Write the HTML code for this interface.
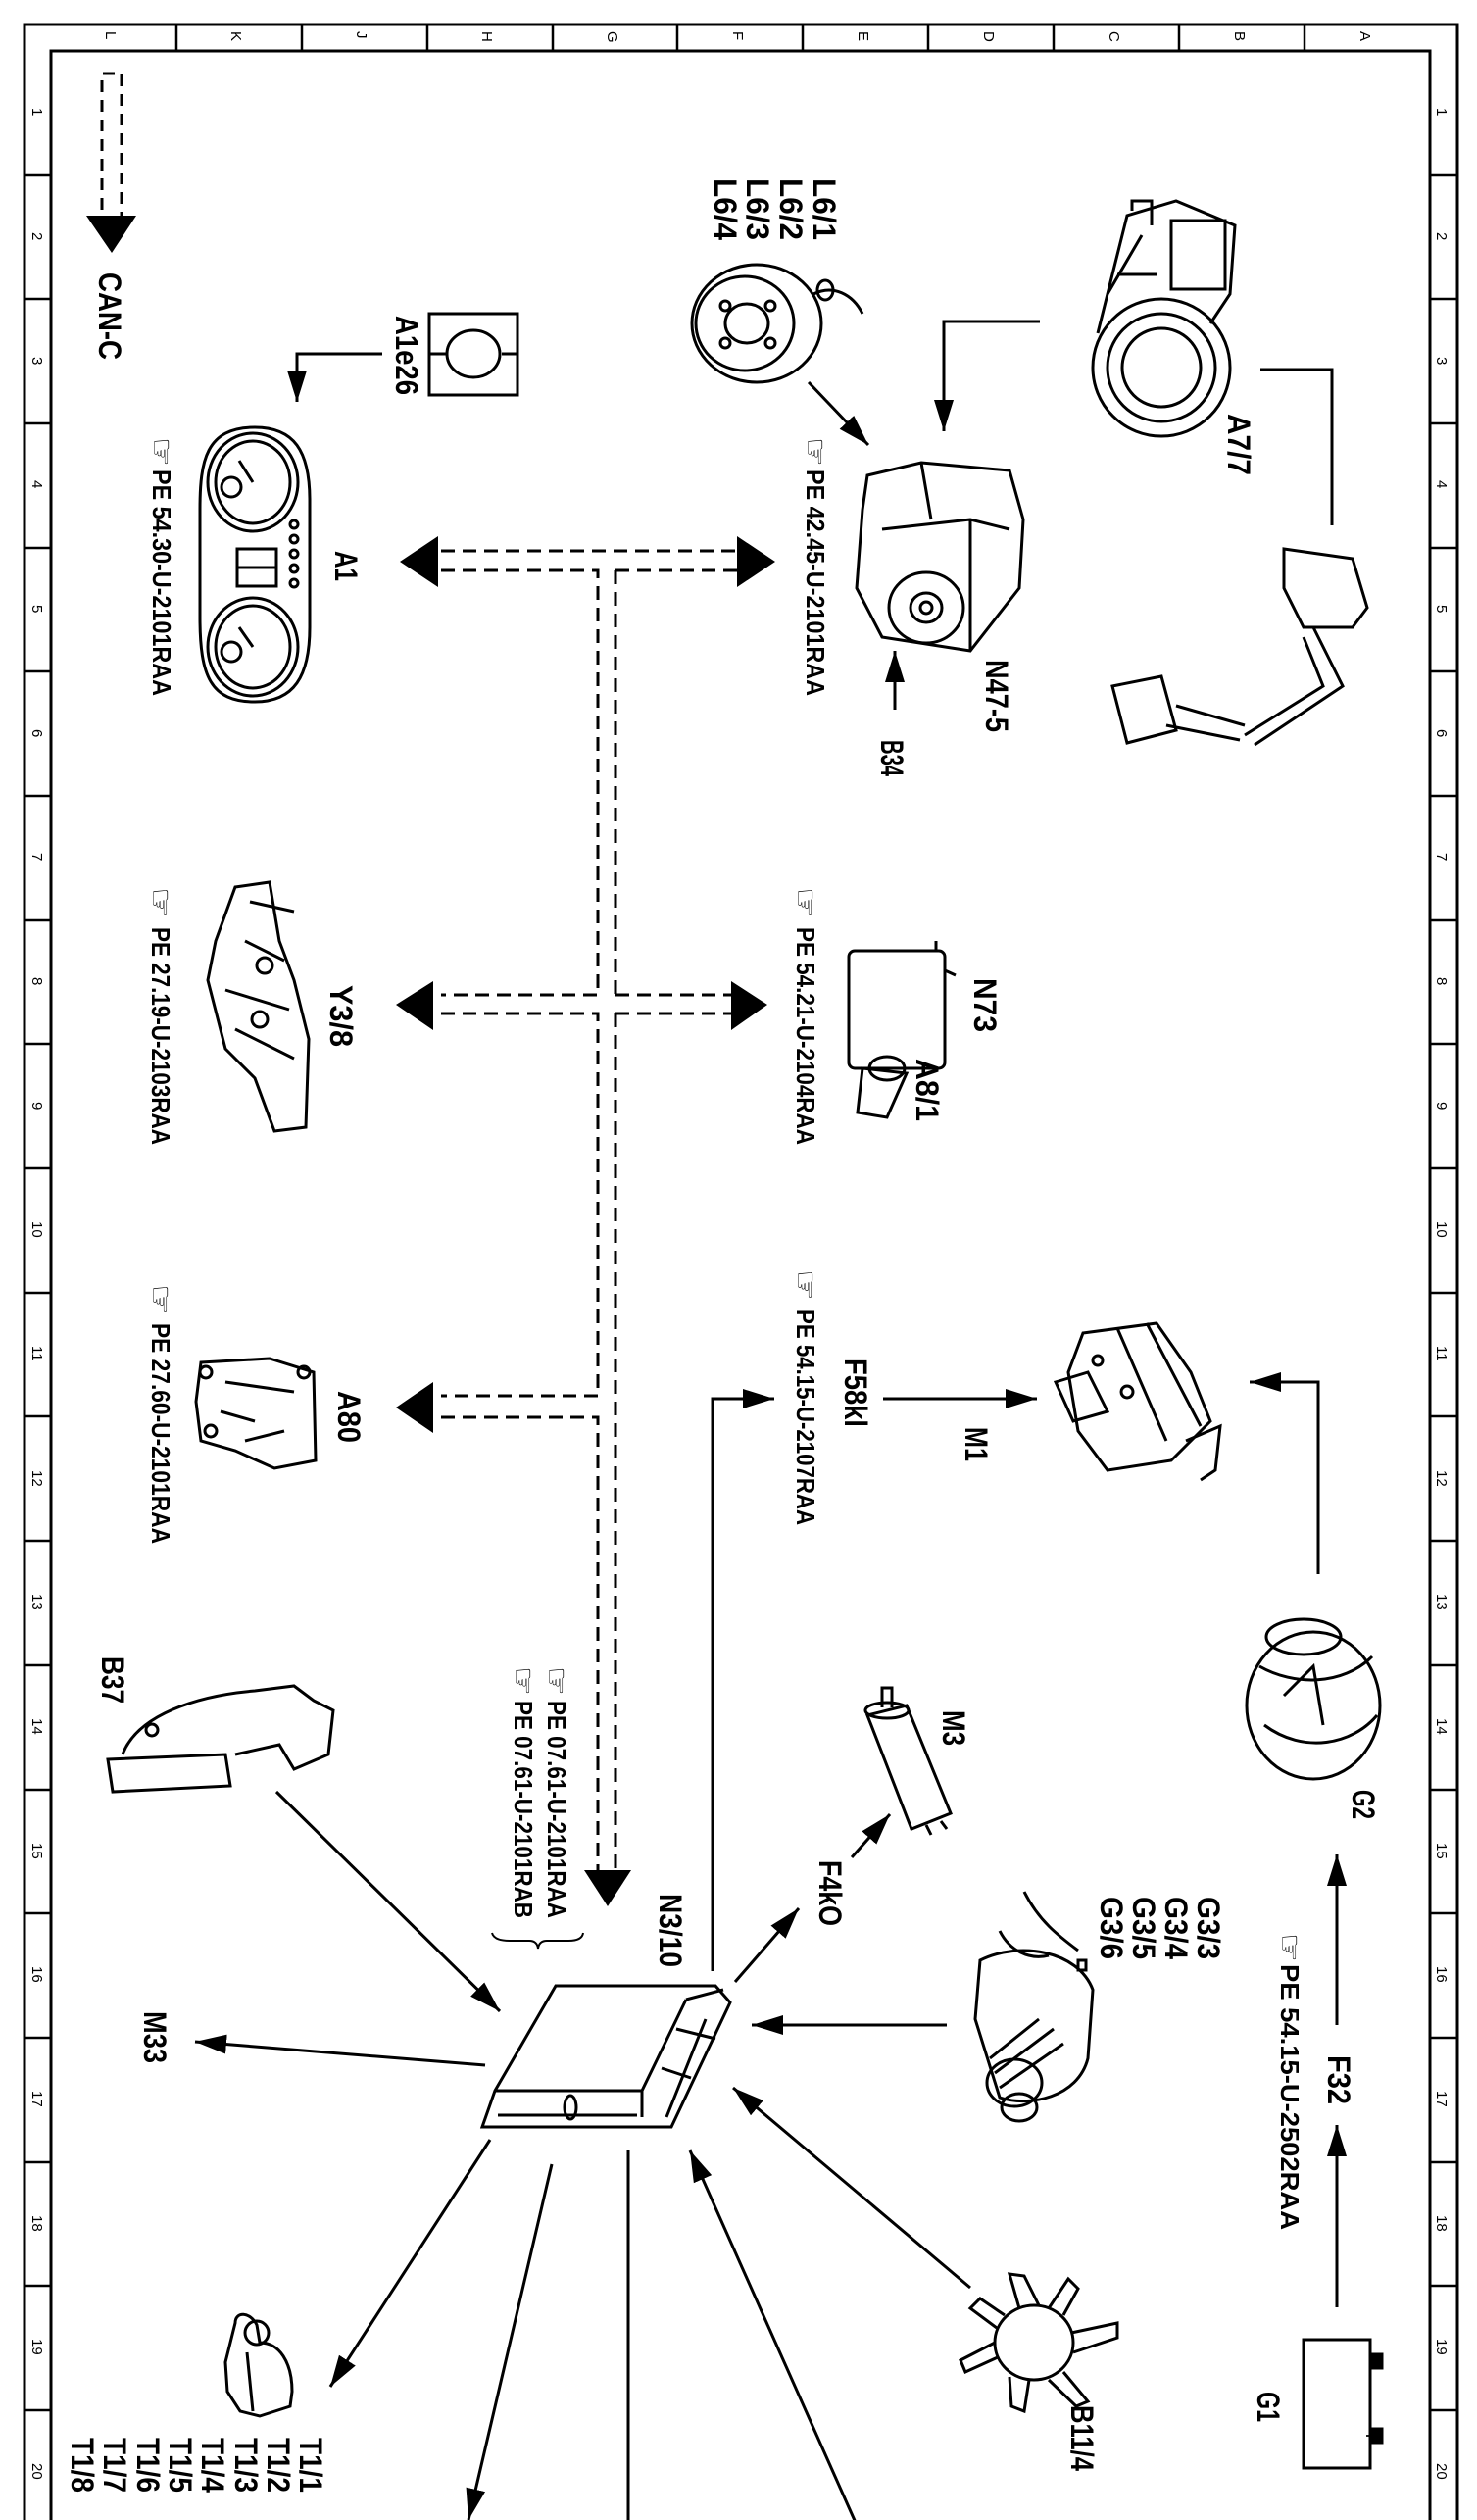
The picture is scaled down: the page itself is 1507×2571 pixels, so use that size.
<!DOCTYPE html>
<html><head><meta charset="utf-8"><style>
html,body{margin:0;padding:0;background:#fff}
svg{display:block}
text{font-family:"Liberation Sans","DejaVu Sans",sans-serif;fill:#000}
.b{font-weight:bold}
.g{font-size:15px;font-weight:normal}
</style></head><body>
<svg width="1507" height="2571" viewBox="0 0 1507 2571" xmlns="http://www.w3.org/2000/svg">
<defs>
<marker id="a" markerUnits="userSpaceOnUse" markerWidth="34" markerHeight="24" refX="32" refY="12" orient="auto"><path d="M0,2 L32,12 L0,22 Z" fill="#000"/></marker>
</defs>
<g fill="none" stroke="#000">
<path d="M25,2571 V25 H1487 V2571" stroke-width="3"/>
<path d="M52,2571 V52 H1459 V2571" stroke-width="3"/>
<g stroke-width="2.5">
<path d="M180,25V52M308,25V52M436,25V52M564,25V52M691,25V52M819,25V52M947,25V52M1075,25V52M1203,25V52M1331,25V52"/>
<path d="M25,179H52M25,305H52M25,432H52M25,559H52M25,685H52M25,812H52M25,939H52M25,1065H52M25,1192H52M25,1319H52M25,1445H52M25,1572H52M25,1699H52M25,1826H52M25,1952H52M25,2079H52M25,2206H52M25,2332H52M25,2459H52"/>
<path d="M1459,179H1487M1459,305H1487M1459,432H1487M1459,559H1487M1459,685H1487M1459,812H1487M1459,939H1487M1459,1065H1487M1459,1192H1487M1459,1319H1487M1459,1445H1487M1459,1572H1487M1459,1699H1487M1459,1826H1487M1459,1952H1487M1459,2079H1487M1459,2206H1487M1459,2332H1487M1459,2459H1487"/>
</g>

<path d="M124,228 V75 H104 V228" stroke-width="3" stroke-dasharray="12,8"/>
<g stroke-width="3" stroke-dasharray="14,8">
<path d="M450,562 H752 M450,582 H610 V1015 H450 M628,582 H752 M628,1015 H750 M450,1034 H610 V1424 H450 M628,1034 H750 M450,1446 H610 V1925"/>
<path d="M628,582 V1015 M628,1034 V1925"/>
</g>

<g stroke-width="3">
<path d="M390,361 H303 V410" marker-end="url(#a)"/>
<path d="M825,390 L886,454" marker-end="url(#a)"/>
<path d="M1061,328 H963 V440" marker-end="url(#a)"/>
<path d="M1286,377 H1359 V536"/>
<path d="M913,724 V664" marker-end="url(#a)"/>
<path d="M901,1427 H1058" marker-end="url(#a)"/>
<path d="M727,2011 V1427 H790" marker-end="url(#a)"/>
<path d="M1345,1606 V1410 H1275" marker-end="url(#a)"/>
<path d="M1364,2066 V1892" marker-end="url(#a)"/>
<path d="M1364,2354 V2168" marker-end="url(#a)"/>
<path d="M750,2022 L815,1947" marker-end="url(#a)"/>
<path d="M869,1895 L908,1851" marker-end="url(#a)"/>
<path d="M966,2066 H767" marker-end="url(#a)"/>
<path d="M282,1828 L510,2052" marker-end="url(#a)"/>
<path d="M495,2107 L199,2083" marker-end="url(#a)"/>
<path d="M990,2334 L748,2130" marker-end="url(#a)"/>
<path d="M874,2576 L704,2194" marker-end="url(#a)"/>
<path d="M641,2194 V2571"/>
<path d="M563,2208 L478,2571" marker-end="url(#a)"/>
<path d="M500,2183 L337,2435" marker-end="url(#a)"/>
<path d="M502,1972 Q504,1980 520,1980 H540 Q548,1980 549,1988 Q550,1980 558,1980 H580 Q594,1980 595,1972" stroke-width="2"/>
</g>
</g>
<g fill="#000">
<path d="M88,220 H139 L114,258 Z"/>
<path d="M408,573 L447,547 V599 Z"/>
<path d="M791,573 L752,547 V599 Z"/>
<path d="M404,1025 L442,1001 V1051 Z"/>
<path d="M783,1025 L746,1001 V1051 Z"/>
<path d="M404,1436 L442,1410 V1462 Z"/>
<path d="M596,1908 H644 L620,1945 Z"/>
</g>

<g fill="none" stroke="#000" stroke-width="3">
<rect x="438" y="320" width="90" height="83"/>
<path d="M438,361 H455 M512,361 H528"/>
<ellipse cx="483" cy="361" rx="27" ry="24"/>
<path d="M260,436 C210,436 204,470 204,520 V630 C204,690 215,716 260,716 C300,716 316,690 316,640 V510 C316,460 300,436 260,436 Z"/>
<ellipse cx="258" cy="492" rx="46" ry="50"/><ellipse cx="258" cy="492" rx="38" ry="42"/>
<ellipse cx="258" cy="660" rx="46" ry="50"/><ellipse cx="258" cy="660" rx="38" ry="42"/>
<rect x="242" y="560" width="40" height="38"/><path d="M242,579 H282"/>
<circle cx="236" cy="497" r="10"/><circle cx="236" cy="665" r="10"/>
<path d="M258,492 L244,470 M258,660 L244,640"/>
<circle cx="300" cy="535" r="4"/><circle cx="300" cy="550" r="4"/><circle cx="300" cy="565" r="4"/><circle cx="300" cy="580" r="4"/><circle cx="300" cy="595" r="4"/>
<ellipse cx="772" cy="330" rx="66" ry="60"/>
<ellipse cx="760" cy="330" rx="50" ry="48"/>
<ellipse cx="762" cy="330" rx="22" ry="20"/>
<circle cx="740" cy="312" r="5"/><circle cx="786" cy="312" r="5"/><circle cx="740" cy="350" r="5"/><circle cx="786" cy="350" r="5"/>
<path d="M830,300 C850,290 870,300 880,320"/>
<ellipse cx="842" cy="296" rx="8" ry="10"/>
<ellipse cx="1185" cy="375" rx="70" ry="70"/>
<ellipse cx="1185" cy="375" rx="55" ry="55"/>
<ellipse cx="1185" cy="375" rx="40" ry="40"/>
<path d="M1120,340 L1150,220 L1200,205 L1260,230 L1255,300 L1235,330"/>
<rect x="1195" y="225" width="55" height="70"/>
<path d="M1140,280 H1180 M1130,300 L1165,240 M1155,215 V205 H1175 V230"/>
<path d="M1310,560 L1380,570 L1395,620 L1380,640 L1330,640 L1310,600 Z"/>
<path d="M1340,640 L1370,700 L1280,760 M1330,650 L1350,700 L1270,750"/>
<path d="M1135,700 L1185,690 L1200,745 L1150,758 Z"/>
<path d="M1200,720 L1270,740 M1190,740 L1265,755"/>
<path d="M885,485 L940,472 L1030,480 L1044,530 L1040,600 L990,664 L900,650 L874,600 L880,520 Z"/>
<path d="M900,540 L990,530 L1030,540 M940,472 L950,530 M990,530 L990,664"/>
<ellipse cx="945" cy="620" rx="38" ry="36"/><ellipse cx="945" cy="620" rx="16" ry="15"/><circle cx="945" cy="620" r="6"/>
<path d="M240,905 L275,900 L285,960 L300,1000 L315,1060 L312,1150 L280,1154 L260,1100 L230,1070 L212,1000 L220,960 Z"/>
<path d="M250,960 L290,980 M230,1010 L295,1030 M240,1050 L300,1080 M255,920 L300,930"/>
<circle cx="270" cy="985" r="8"/><circle cx="265" cy="1040" r="8"/>
<rect x="866" y="970" width="98" height="120" rx="6"/>
<path d="M955,970 V960 M964,990 L975,995"/>
<path d="M880,1090 L875,1135 L905,1140 L925,1095 Z"/>
<ellipse cx="905" cy="1090" rx="18" ry="12"/>
<path d="M205,1390 L275,1386 L320,1400 L322,1490 L280,1498 L240,1480 L205,1470 L200,1430 Z"/>
<path d="M230,1410 L300,1420 M225,1440 L260,1450 M250,1470 L290,1460"/>
<circle cx="210" cy="1400" r="6"/><circle cx="310" cy="1400" r="6"/><circle cx="215" cy="1460" r="6"/>
<path d="M1105,1360 L1180,1350 L1215,1400 L1235,1450 L1195,1490 L1130,1500 L1100,1460 L1090,1400 Z"/>
<path d="M1140,1355 L1190,1470 M1170,1350 L1225,1455"/>
<path d="M1077,1410 L1110,1400 L1130,1440 L1095,1450 Z"/>
<path d="M1210,1470 L1245,1455 L1240,1500 L1225,1510"/>
<circle cx="1120" cy="1388" r="5"/><circle cx="1150" cy="1420" r="6"/>
<ellipse cx="1340" cy="1740" rx="68" ry="75"/>
<ellipse cx="1330" cy="1670" rx="38" ry="18"/>
<path d="M1285,1700 C1320,1720 1370,1720 1400,1690 M1290,1760 C1330,1790 1380,1780 1405,1750 M1310,1730 L1340,1700 L1350,1760"/>
<path d="M885,1750 L925,1740 L970,1850 L930,1866 Z"/>
<ellipse cx="905" cy="1745" rx="22" ry="8"/>
<path d="M900,1742 V1722 H910 V1742"/>
<path d="M945,1862 L950,1872 M960,1858 L966,1866"/>
<path d="M1000,2000 C1040,1980 1100,1990 1115,2030 L1110,2100 C1100,2140 1050,2150 1020,2140 L995,2060 Z"/>
<ellipse cx="1035" cy="2125" rx="28" ry="24"/><ellipse cx="1040" cy="2150" rx="18" ry="14"/>
<path d="M1045,1930 C1060,1960 1080,1975 1100,1990 M1020,1970 C1030,1990 1050,2000 1070,1995"/>
<rect x="1100" y="2000" width="8" height="10"/>
<path d="M1010,2100 L1060,2060 M1015,2115 L1075,2070 M1020,2130 L1085,2085"/>
<path d="M567,2026 L730,2026 L745,2043 L685,2170 L492,2170 L505,2133 Z"/>
<path d="M505,2133 H655 L700,2040 M655,2133 V2160 M700,2040 L738,2030 M680,2160 L720,2060 M690,2070 L730,2080 M675,2110 L705,2120"/>
<path d="M508,2158 H650"/><ellipse cx="582" cy="2150" rx="6" ry="12"/>
<path d="M110,1795 L230,1790 L235,1822 L115,1828 Z"/>
<path d="M125,1790 C140,1750 200,1730 260,1725 L300,1720 L320,1735 L340,1745 L335,1790 L300,1805 L285,1780 L240,1790"/>
<circle cx="155" cy="1765" r="6"/>
<rect x="1330" y="2387" width="68" height="131"/>
<rect x="1398" y="2402" width="12" height="14" fill="#000"/>
<rect x="1398" y="2478" width="12" height="14" fill="#000"/>
<path d="M240,2370 C240,2358 255,2358 262,2372 L265,2390 C285,2390 298,2410 298,2440 L296,2455 L265,2465 L245,2460 L232,2440 L230,2410 Z"/>
<circle cx="262" cy="2380" r="12"/>
<path d="M252,2400 L258,2460"/>
<ellipse cx="1055" cy="2390" rx="40" ry="38"/>
<path d="M1040,2355 L1030,2320 L1045,2322 L1060,2352 M1070,2355 L1090,2325 L1100,2335 L1085,2362 M1093,2380 L1140,2370 L1140,2385 L1095,2400 M1085,2420 L1110,2450 L1098,2455 L1070,2428 M1050,2428 L1045,2460 L1032,2455 L1030,2425 M1018,2405 L985,2420 L980,2408 L1015,2390 M1017,2375 L990,2355 L1000,2345 L1025,2362"/>
</g>

<g class="g">
<text transform="translate(108,32) rotate(90)">L</text>
<text transform="translate(236,32) rotate(90)">K</text>
<text transform="translate(364,32) rotate(90)">J</text>
<text transform="translate(492,32) rotate(90)">H</text>
<text transform="translate(620,32) rotate(90)">G</text>
<text transform="translate(748,32) rotate(90)">F</text>
<text transform="translate(876,32) rotate(90)">E</text>
<text transform="translate(1004,32) rotate(90)">D</text>
<text transform="translate(1132,32) rotate(90)">C</text>
<text transform="translate(1260,32) rotate(90)">B</text>
<text transform="translate(1388,32) rotate(90)">A</text>
</g>
<g font-size="15">
<text transform="translate(33,110) rotate(90)">1</text><text transform="translate(1466,110) rotate(90)">1</text>
<text transform="translate(33,237) rotate(90)">2</text><text transform="translate(1466,237) rotate(90)">2</text>
<text transform="translate(33,364) rotate(90)">3</text><text transform="translate(1466,364) rotate(90)">3</text>
<text transform="translate(33,490) rotate(90)">4</text><text transform="translate(1466,490) rotate(90)">4</text>
<text transform="translate(33,617) rotate(90)">5</text><text transform="translate(1466,617) rotate(90)">5</text>
<text transform="translate(33,744) rotate(90)">6</text><text transform="translate(1466,744) rotate(90)">6</text>
<text transform="translate(33,870) rotate(90)">7</text><text transform="translate(1466,870) rotate(90)">7</text>
<text transform="translate(33,997) rotate(90)">8</text><text transform="translate(1466,997) rotate(90)">8</text>
<text transform="translate(33,1124) rotate(90)">9</text><text transform="translate(1466,1124) rotate(90)">9</text>
<text transform="translate(33,1246) rotate(90)">10</text><text transform="translate(1466,1246) rotate(90)">10</text>
<text transform="translate(33,1373) rotate(90)">11</text><text transform="translate(1466,1373) rotate(90)">11</text>
<text transform="translate(33,1500) rotate(90)">12</text><text transform="translate(1466,1500) rotate(90)">12</text>
<text transform="translate(33,1626) rotate(90)">13</text><text transform="translate(1466,1626) rotate(90)">13</text>
<text transform="translate(33,1753) rotate(90)">14</text><text transform="translate(1466,1753) rotate(90)">14</text>
<text transform="translate(33,1880) rotate(90)">15</text><text transform="translate(1466,1880) rotate(90)">15</text>
<text transform="translate(33,2006) rotate(90)">16</text><text transform="translate(1466,2006) rotate(90)">16</text>
<text transform="translate(33,2133) rotate(90)">17</text><text transform="translate(1466,2133) rotate(90)">17</text>
<text transform="translate(33,2260) rotate(90)">18</text><text transform="translate(1466,2260) rotate(90)">18</text>
<text transform="translate(33,2386) rotate(90)">19</text><text transform="translate(1466,2386) rotate(90)">19</text>
<text transform="translate(33,2513) rotate(90)">20</text><text transform="translate(1466,2513) rotate(90)">20</text>
</g>

<g class="b" font-size="32">
<text transform="translate(101,278) rotate(90)" textLength="89" lengthAdjust="spacingAndGlyphs">CAN-C</text>
<text transform="translate(404,322) rotate(90)" textLength="81" lengthAdjust="spacingAndGlyphs">A1e26</text>
<text transform="translate(342,562) rotate(90)" textLength="31" lengthAdjust="spacingAndGlyphs">A1</text>
<text transform="translate(830,182) rotate(90)" textLength="63" lengthAdjust="spacingAndGlyphs">L6/1</text>
<text transform="translate(796,182) rotate(90)" textLength="63" lengthAdjust="spacingAndGlyphs">L6/2</text>
<text transform="translate(762,182) rotate(90)" textLength="63" lengthAdjust="spacingAndGlyphs">L6/3</text>
<text transform="translate(729,182) rotate(90)" textLength="63" lengthAdjust="spacingAndGlyphs">L6/4</text>
<text transform="translate(1253,422) rotate(90)" textLength="63" lengthAdjust="spacingAndGlyphs">A7/7</text>
<text transform="translate(1006,673) rotate(90)" textLength="74" lengthAdjust="spacingAndGlyphs">N47-5</text>
<text transform="translate(899,755) rotate(90)" textLength="37" lengthAdjust="spacingAndGlyphs">B34</text>
<text transform="translate(337,1005) rotate(90)" textLength="63" lengthAdjust="spacingAndGlyphs">Y3/8</text>
<text transform="translate(994,998) rotate(90)" textLength="55" lengthAdjust="spacingAndGlyphs">N73</text>
<text transform="translate(935,1080) rotate(90)" textLength="64" lengthAdjust="spacingAndGlyphs">A8/1</text>
<text transform="translate(345,1419) rotate(90)" textLength="53" lengthAdjust="spacingAndGlyphs">A80</text>
<text transform="translate(862,1386) rotate(90)" textLength="70" lengthAdjust="spacingAndGlyphs">F58kl</text>
<text transform="translate(985,1456) rotate(90)" textLength="35" lengthAdjust="spacingAndGlyphs">M1</text>
<text transform="translate(1380,1826) rotate(90)" textLength="30" lengthAdjust="spacingAndGlyphs">G2</text>
<text transform="translate(104,1690) rotate(90)" textLength="48" lengthAdjust="spacingAndGlyphs">B37</text>
<text transform="translate(962,1745) rotate(90)" textLength="36" lengthAdjust="spacingAndGlyphs">M3</text>
<text transform="translate(836,1898) rotate(90)" textLength="67" lengthAdjust="spacingAndGlyphs">F4kO</text>
<text transform="translate(673,1932) rotate(90)" textLength="75" lengthAdjust="spacingAndGlyphs">N3/10</text>
<text transform="translate(1222,1935) rotate(90)" textLength="64" lengthAdjust="spacingAndGlyphs">G3/3</text>
<text transform="translate(1189,1935) rotate(90)" textLength="64" lengthAdjust="spacingAndGlyphs">G3/4</text>
<text transform="translate(1156,1935) rotate(90)" textLength="64" lengthAdjust="spacingAndGlyphs">G3/5</text>
<text transform="translate(1123,1935) rotate(90)" textLength="64" lengthAdjust="spacingAndGlyphs">G3/6</text>
<text transform="translate(1355,2097) rotate(90)" textLength="50" lengthAdjust="spacingAndGlyphs">F32</text>
<text transform="translate(1283,2440) rotate(90)" textLength="31" lengthAdjust="spacingAndGlyphs">G1</text>
<text transform="translate(147,2052) rotate(90)" textLength="53" lengthAdjust="spacingAndGlyphs">M33</text>
<text transform="translate(1093,2454) rotate(90)" textLength="67" lengthAdjust="spacingAndGlyphs">B11/4</text>
<text transform="translate(306,2487) rotate(90)" textLength="56" lengthAdjust="spacingAndGlyphs">T1/1</text>
<text transform="translate(273,2487) rotate(90)" textLength="56" lengthAdjust="spacingAndGlyphs">T1/2</text>
<text transform="translate(240,2487) rotate(90)" textLength="56" lengthAdjust="spacingAndGlyphs">T1/3</text>
<text transform="translate(206,2487) rotate(90)" textLength="56" lengthAdjust="spacingAndGlyphs">T1/4</text>
<text transform="translate(173,2487) rotate(90)" textLength="56" lengthAdjust="spacingAndGlyphs">T1/5</text>
<text transform="translate(140,2487) rotate(90)" textLength="56" lengthAdjust="spacingAndGlyphs">T1/6</text>
<text transform="translate(106,2487) rotate(90)" textLength="56" lengthAdjust="spacingAndGlyphs">T1/7</text>
<text transform="translate(73,2487) rotate(90)" textLength="56" lengthAdjust="spacingAndGlyphs">T1/8</text>
</g>
<g font-weight="bold" font-size="26">
<text transform="translate(154,446) rotate(90)" font-size="32" textLength="30" lengthAdjust="spacingAndGlyphs">☞</text>
<text transform="translate(156,479) rotate(90)" textLength="231" lengthAdjust="spacingAndGlyphs">PE  54.30-U-2101RAA</text>
<text transform="translate(821,446) rotate(90)" font-size="32" textLength="30" lengthAdjust="spacingAndGlyphs">☞</text>
<text transform="translate(823,479) rotate(90)" textLength="231" lengthAdjust="spacingAndGlyphs">PE  42.45-U-2101RAA</text>
<text transform="translate(153,905) rotate(90)" font-size="32" textLength="32" lengthAdjust="spacingAndGlyphs">☞</text>
<text transform="translate(155,946) rotate(90)" textLength="222" lengthAdjust="spacingAndGlyphs">PE  27.19-U-2103RAA</text>
<text transform="translate(811,905) rotate(90)" font-size="32" textLength="32" lengthAdjust="spacingAndGlyphs">☞</text>
<text transform="translate(813,946) rotate(90)" textLength="222" lengthAdjust="spacingAndGlyphs">PE  54.21-U-2104RAA</text>
<text transform="translate(153,1310) rotate(90)" font-size="32" textLength="32" lengthAdjust="spacingAndGlyphs">☞</text>
<text transform="translate(155,1350) rotate(90)" textLength="225" lengthAdjust="spacingAndGlyphs">PE  27.60-U-2101RAA</text>
<text transform="translate(811,1295) rotate(90)" font-size="32" textLength="32" lengthAdjust="spacingAndGlyphs">☞</text>
<text transform="translate(813,1336) rotate(90)" textLength="220" lengthAdjust="spacingAndGlyphs">PE  54.15-U-2107RAA</text>
<text transform="translate(557,1700) rotate(90)" font-size="32" textLength="30" lengthAdjust="spacingAndGlyphs">☞</text>
<text transform="translate(559,1735) rotate(90)" textLength="222" lengthAdjust="spacingAndGlyphs">PE  07.61-U-2101RAA</text>
<text transform="translate(523,1700) rotate(90)" font-size="32" textLength="30" lengthAdjust="spacingAndGlyphs">☞</text>
<text transform="translate(525,1735) rotate(90)" textLength="222" lengthAdjust="spacingAndGlyphs">PE  07.61-U-2101RAB</text>
<text transform="translate(1305,1972) rotate(90)" font-size="32" textLength="30" lengthAdjust="spacingAndGlyphs">☞</text>
<text transform="translate(1307,2004) rotate(90)" textLength="271" lengthAdjust="spacingAndGlyphs">PE  54.15-U-2502RAA</text>
</g>
<text transform="translate(1395,2400) rotate(90)" font-size="24">-</text>
<text transform="translate(1392,2478) rotate(90)" font-size="24">+</text>
</svg>
</body></html>
